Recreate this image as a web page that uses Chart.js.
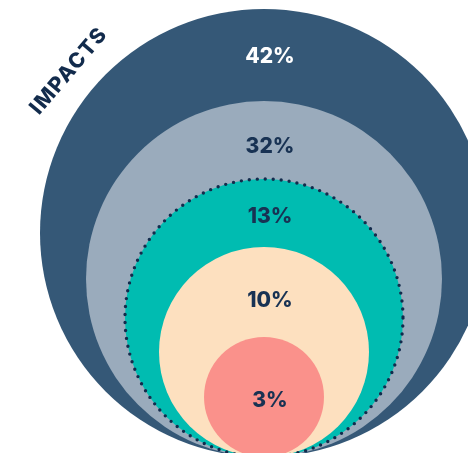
<!DOCTYPE html>
<html>
<head>
<meta charset="utf-8">
<script src="https://cdn.jsdelivr.net/npm/chart.js@4.4.1/dist/chart.umd.min.js"></script>
<style>
  html, body { margin: 0; padding: 0; background: #ffffff; }
  #wrap { width: 468px; height: 453px; position: relative; }
</style>
</head>
<body>
<div id="wrap"><canvas id="impactChart"></canvas></div>
<script>
// values, outer ring first
const ringLabels = ["42%", "32%", "13%", "10%", "3%"];
const ringShares = [42, 32, 13, 10, 3];
const ringRadii = [224, 178, 139, 105, 60];
const chartTitle = "IMPACTS";

// layout / style
const centerX = 264;
const baseY = 457; // all circles touch at the bottom
const fills = ["#355877", "#9aabbc", "#00bcb1", "#fde0bf", "#fa918b"];
const textColors = ["#ffffff", "#183253", "#183253", "#183253", "#183253"];
const labelShift = [2, 7, 4, 9, 4];
const navy = "#122b4c";
const labelFont = "800 21px Inter, 'Open Sans', sans-serif";

const points = ringShares.map((v, i) => ({
  x: centerX,
  y: baseY - ringRadii[i],
  r: ringRadii[i],
  v: v,
}));

const ringDecor = {
  id: "ringDecor",
  afterDatasetsDraw(chart) {
    const ctx = chart.ctx;
    const pts = chart.getDatasetMeta(0).data;

    // dotted outline of the 13% ring
    const teal = pts[2];
    ctx.save();
    ctx.setLineDash([0, 8]);
    ctx.lineCap = "round";
    ctx.lineWidth = 3.4;
    ctx.strokeStyle = navy;
    ctx.beginPath();
    ctx.arc(teal.x, teal.y, teal.options.radius, 0, Math.PI * 2);
    ctx.stroke();
    ctx.restore();

    // percentage labels
    ctx.save();
    ctx.font = labelFont;
    ctx.textAlign = "center";
    ctx.textBaseline = "middle";
    pts.forEach((p, i) => {
      const top = p.y - p.options.radius;
      let y;
      if (i < pts.length - 1) {
        const next = pts[i + 1];
        y = (top + next.y - next.options.radius) / 2;
      } else {
        y = p.y;
      }
      ctx.fillStyle = textColors[i];
      ctx.fillText(ringLabels[i], p.x + 6, y + labelShift[i]);
    });
    ctx.restore();

    // rotated title along the outer ring
    ctx.save();
    ctx.translate(69, 71);
    ctx.rotate(-49.5 * Math.PI / 180);
    ctx.font = labelFont;
    ctx.letterSpacing = "1.5px";
    ctx.textAlign = "center";
    ctx.textBaseline = "middle";
    ctx.fillStyle = navy;
    ctx.fillText(chartTitle, 0, 0);
    ctx.restore();
  },
};

new Chart(document.getElementById("impactChart"), {
  type: "bubble",
  data: {
    datasets: [
      {
        data: points,
        backgroundColor: fills,
        borderWidth: 0,
        hoverRadius: 0,
        clip: false,
      },
    ],
  },
  options: {
    responsive: true,
    maintainAspectRatio: false,
    animation: false,
    events: [],
    layout: { padding: 0, autoPadding: false },
    plugins: {
      legend: { display: false },
      tooltip: { enabled: false },
    },
    scales: {
      x: { type: "linear", min: 0, max: 468, display: false },
      y: { type: "linear", min: 0, max: 453, reverse: true, display: false },
    },
  },
  plugins: [ringDecor],
});
</script>
</body>
</html>
